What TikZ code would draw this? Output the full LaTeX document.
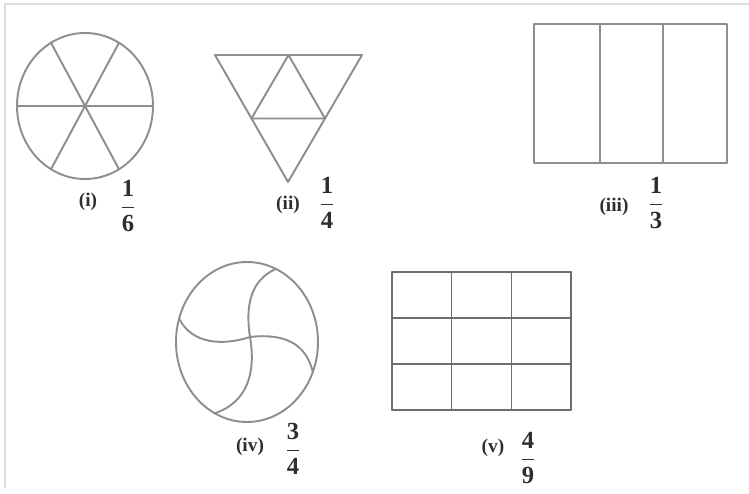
\documentclass[tikz,border=0pt]{standalone}
\usepackage{amsmath,amssymb}
\usepackage{fontspec}
\setmainfont{Liberation Serif}
\usepackage{tikz}
\usetikzlibrary{calc}
\definecolor{shapegray}{HTML}{8E8E8E}
\definecolor{gridgray}{HTML}{6E6E6E}
\definecolor{framegray}{HTML}{DCDCDC}
\definecolor{inkgray}{HTML}{2E2E2E}
\tikzset{
	shapeline/.style={draw=shapegray, line width=1.1pt},
	gridline/.style={draw=gridgray, line width=0.9pt},
	tag/.style={inner sep=0pt, text=inkgray, font=\fontsize{11}{13}\selectfont\bfseries},
	frac/.style={inner sep=0pt, text=inkgray, font=\fontsize{14}{16}\selectfont\bfseries}
}
\newcommand{\fr}[2]{$\dfrac{\textbf{#1}}{\textbf{#2}}$}

\begin{document}
\begin{tikzpicture}[x=0.02cm, y=-0.02cm, line join=round, line cap=round]
	\useasboundingbox (0,0) rectangle (749,493);
	\draw[framegray, line width=0.8pt] (5,487) -- (5,4) -- (749,4);
	% (i) circle cut in six
	\coordinate (C1) at (85,106);
	\draw[shapeline] (C1) ellipse [x radius=68, y radius=73];
	\draw[shapeline] ($(C1)+(-68,0)$) -- ($(C1)+(68,0)$);
	\draw[shapeline] ($(C1)+(120:68 and 73)$) -- ($(C1)+(-60:68 and 73)$);
	\draw[shapeline] ($(C1)+(60:68 and 73)$) -- ($(C1)+(240:68 and 73)$);
	\node[tag] (l1) at (88,202) {(i)};
	\node[frac] (f1) at (128,206) {\fr{1}{6}};
	% (ii) triangle cut in four
	\coordinate (A) at (215,55);
	\coordinate (B) at (362,55);
	\coordinate (D) at (288,182);
	\draw[shapeline] (A) -- (B) -- (D) -- cycle;
	\draw[shapeline] ($(A)!0.5!(B)$) -- ($(A)!0.5!(D)$) -- ($(B)!0.5!(D)$) -- cycle;
	\node[tag] (l2) at (288,205) {(ii)};
	\node[frac] (f2) at (327,203) {\fr{1}{4}};
	% (iii) rectangle cut in three
	\draw[shapeline] (534,24) rectangle (727,163);
	\draw[shapeline] (600,24) -- (600,163) (663,24) -- (663,163);
	\node[tag] (l3) at (614,207) {(iii)};
	\node[frac] (f3) at (656,203) {\fr{1}{3}};
	% (iv) pinwheel circle
	\coordinate (C4) at (247,342);
	\coordinate (P) at (250,337);
	\draw[shapeline] (C4) ellipse [x radius=71, y radius=80];
	\draw[shapeline] (P) .. controls (245,305) and (251,280) .. ($(C4)+(-66:71 and 80)$);
	\draw[shapeline] (P) .. controls (222,346) and (192,344) .. ($(C4)+(197:71 and 80)$);
	\draw[shapeline] (P) .. controls (285,333) and (306,344) .. ($(C4)+(22:71 and 80)$);
	\draw[shapeline] (P) .. controls (256,372) and (248,402) .. ($(C4)+(117:71 and 80)$);
	\node[tag] (l4) at (250,447) {(iv)};
	\node[frac] (f4) at (293,449) {\fr{3}{4}};
	% (v) grid of nine
	\foreach \i in {0,1,2,3} {
		\draw[gridline] ({392+\i*179/3},272) -- ({392+\i*179/3},410);
		\draw[gridline] (392,{272+\i*46}) -- (571,{272+\i*46});
	}
	\node[tag] (l5) at (493,448) {(v)};
	\node[frac] (f5) at (528,458) {\fr{4}{9}};
\end{tikzpicture}
\end{document}
